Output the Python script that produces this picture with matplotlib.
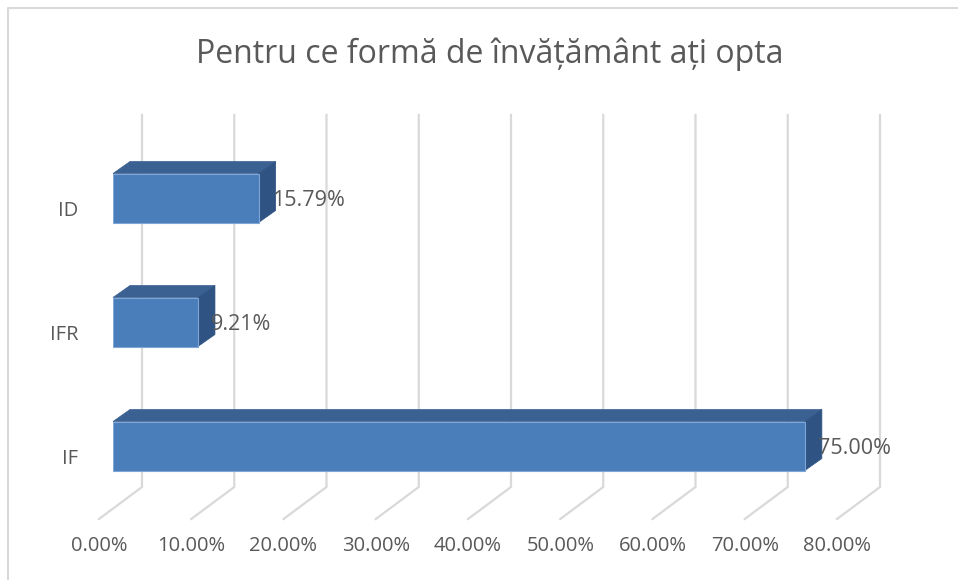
import numpy as np
import matplotlib
matplotlib.use("Agg")
import matplotlib.pyplot as plt
from matplotlib.patches import Polygon
from matplotlib.lines import Line2D

plt.rcParams['font.family'] = ['Open Sans', 'DejaVu Sans']

# data
categories = ['IF', 'IFR', 'ID']
values = [75.00, 9.21, 15.79]
ticks = [0, 10, 20, 30, 40, 50, 60, 70, 80]
title = 'Pentru ce formă de învățământ ați opta'

txt_col = '#595959'
grid_col = '#d9d9d9'
front_col = '#4a7ebb'
top_col = '#3a6192'
side_col = '#2f5383'
fs = 14.5

W, H = 958, 580
fig = plt.figure(figsize=(W / 100, H / 100), dpi=100)
ax = fig.add_axes([113 / W, (H - 508) / H, 738 / W, 372 / H])
ax.set_xlim(0, 80)
ax.set_ylim(-0.5, 2.5)
ax.axis('off')

# pixel -> data scale (axes is linear)
sx = 738 / 80
sy = 372 / 3

def off(px, py):
    # px to the right, py upward
    return px / sx, py / sy

back_dx, back_dy = off(29, 21)
front_dx, front_dy = off(-14, -11)
bar_dx, bar_dy = off(17, 12)
bar_h = 49 / sy

# gridlines: back wall + floor
for t in ticks:
    xs = [t + front_dx, t + back_dx, t + back_dx]
    ys = [-0.5 + front_dy, -0.5 + back_dy, 2.5 + back_dy]
    ax.plot(xs, ys, color=grid_col, lw=1.6, clip_on=False, zorder=1,
            solid_joinstyle='miter')
    ax.text(t + front_dx, -0.5 - 38 / sy, f'{t:.2f}%', ha='center', va='center',
            fontsize=fs, color=txt_col, clip_on=False)

# bars
yb_all = np.arange(len(categories))
for y, v, c in zip(yb_all, values, categories):
    yb, yt = y - bar_h / 2, y + bar_h / 2
    ax.barh(y, v, height=bar_h, color=front_col, edgecolor='#7ea5d5',
            lw=0.8, zorder=3)
    top = Polygon([(0, yt), (v, yt), (v + bar_dx, yt + bar_dy), (bar_dx, yt + bar_dy)],
                  closed=True, facecolor=top_col, edgecolor=top_col, lw=0.5,
                  zorder=2, clip_on=False)
    side = Polygon([(v, yb), (v, yt), (v + bar_dx, yt + bar_dy), (v + bar_dx, yb + bar_dy)],
                   closed=True, facecolor=side_col, edgecolor=side_col, lw=0.5,
                   zorder=2, clip_on=False)
    ax.add_patch(top)
    ax.add_patch(side)
    ax.text(v + bar_dx - 4 / sx, y - 3 / sy, f'{v:.2f}%', ha='left', va='center',
            fontsize=15.5, color=txt_col, zorder=4, clip_on=False)
    ax.text(-35 / sx, y - 13 / sy, c, ha='right', va='center',
            fontsize=fs, color=txt_col, clip_on=False)

# title
fig.text(490 / W, 1 - 54 / H, title, ha='center', va='center',
         fontsize=23, color=txt_col)

# chart border (only left and top visible)
fig.add_artist(Line2D([8 / W, 8 / W, 1], [0, 1 - 8 / H, 1 - 8 / H],
                      color=grid_col, lw=1.5, transform=fig.transFigure))

fig.savefig('out.png', dpi=100)
